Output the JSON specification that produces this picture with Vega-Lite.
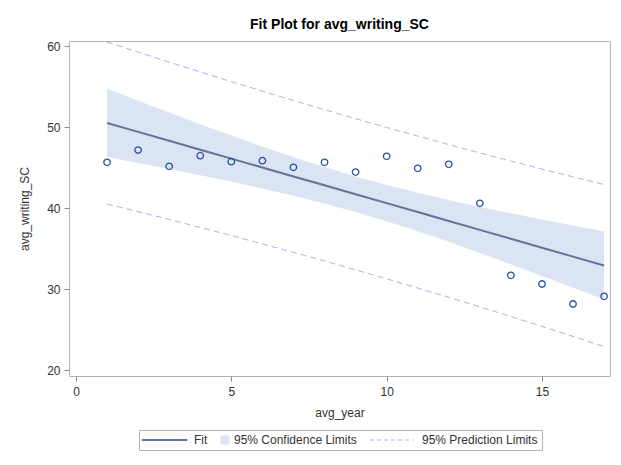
{
  "$schema": "https://vega.github.io/schema/vega-lite/v6.json",
  "width": 541,
  "height": 335,
  "autosize": {"type": "none"},
  "padding": {"left": 69, "top": 41, "right": 11, "bottom": 89},
  "background": "white",
  "title": {
    "text": "Fit Plot for avg_writing_SC",
    "fontSize": 14,
    "fontWeight": "bold",
    "font": "Liberation Sans",
    "color": "#000000",
    "anchor": "middle",
    "frame": "group",
    "offset": 8
  },
  "config": {
    "view": {"stroke": "#b4b4b4", "strokeWidth": 1},
    "font": "Liberation Sans",
    "axis": {
      "grid": false,
      "domain": false,
      "tickColor": "#8c8c8c",
      "tickSize": 5,
      "labelColor": "#333333",
      "labelFontSize": 12,
      "titleColor": "#333333",
      "titleFontSize": 12,
      "titleFontWeight": "normal",
      "labelFont": "Liberation Sans",
      "titleFont": "Liberation Sans"
    }
  },
  "data": {
    "values": [
      {"x": 1, "y": 45.64, "fit": 50.5, "cl": 46.29, "cu": 54.71, "pl": 40.5, "pu": 60.5},
      {"x": 2, "y": 47.16, "fit": 49.4, "cl": 45.56, "cu": 53.24, "pl": 39.55, "pu": 59.25},
      {"x": 3, "y": 45.15, "fit": 48.3, "cl": 44.82, "cu": 51.78, "pl": 38.59, "pu": 58.01},
      {"x": 4, "y": 46.46, "fit": 47.2, "cl": 44.06, "cu": 50.34, "pl": 37.6, "pu": 56.8},
      {"x": 5, "y": 45.72, "fit": 46.1, "cl": 43.26, "cu": 48.94, "pl": 36.6, "pu": 55.6},
      {"x": 6, "y": 45.84, "fit": 45.0, "cl": 42.42, "cu": 47.58, "pl": 35.57, "pu": 54.43},
      {"x": 7, "y": 45.02, "fit": 43.9, "cl": 41.52, "cu": 46.28, "pl": 34.52, "pu": 53.28},
      {"x": 8, "y": 45.64, "fit": 42.8, "cl": 40.56, "cu": 45.05, "pl": 33.46, "pu": 52.14},
      {"x": 9, "y": 44.44, "fit": 41.7, "cl": 39.5, "cu": 43.9, "pl": 32.37, "pu": 51.03},
      {"x": 10, "y": 46.38, "fit": 40.6, "cl": 38.36, "cu": 42.85, "pl": 31.26, "pu": 49.94},
      {"x": 11, "y": 44.9, "fit": 39.5, "cl": 37.12, "cu": 41.88, "pl": 30.12, "pu": 48.88},
      {"x": 12, "y": 45.39, "fit": 38.4, "cl": 35.82, "cu": 40.98, "pl": 28.97, "pu": 47.83},
      {"x": 13, "y": 40.58, "fit": 37.3, "cl": 34.46, "cu": 40.14, "pl": 27.8, "pu": 46.8},
      {"x": 14, "y": 31.69, "fit": 36.2, "cl": 33.06, "cu": 39.34, "pl": 26.6, "pu": 45.8},
      {"x": 15, "y": 30.62, "fit": 35.1, "cl": 31.62, "cu": 38.58, "pl": 25.39, "pu": 44.81},
      {"x": 16, "y": 28.15, "fit": 34.0, "cl": 30.16, "cu": 37.84, "pl": 24.15, "pu": 43.85},
      {"x": 17, "y": 29.1, "fit": 32.9, "cl": 28.69, "cu": 37.11, "pl": 22.9, "pu": 42.9}
    ]
  },
  "encoding": {
    "x": {
      "field": "x",
      "type": "quantitative",
      "title": "avg_year",
      "scale": {"domain": [-0.225, 17.19], "nice": false, "zero": false},
      "axis": {"values": [0, 5, 10, 15], "labelPadding": 5, "titlePadding": 10}
    }
  },
  "layer": [
    {
      "mark": {"type": "area", "opacity": 1},
      "encoding": {
        "y": {
          "field": "cl",
          "type": "quantitative",
          "title": "avg_writing_SC",
          "scale": {"domain": [19.26, 60.62], "nice": false, "zero": false},
          "axis": {"values": [20, 30, 40, 50, 60], "labelPadding": 4, "titlePadding": 15}
        },
        "y2": {"field": "cu"},
        "color": {
          "datum": "95% Confidence Limits",
          "type": "nominal",
          "scale": {
            "domain": ["Fit", "95% Confidence Limits", "95% Prediction Limits"],
            "range": ["#62739a", "#dbe4f2", "#aab2e8"]
          },
          "legend": {
            "title": " ",
            "titleOrient": "left",
            "titlePadding": 36,
            "titleFontSize": 12,
            "orient": "none",
            "direction": "horizontal",
            "legendX": 70,
            "legendY": 389,
            "strokeColor": "#b4b4b4",
            "fillColor": "#ffffff",
            "padding": 4,
            "labelFontSize": 12,
            "labelColor": "#333333",
            "labelFont": "Liberation Sans",
            "columnPadding": 11,
            "labelOffset": 3,
            "symbolOffset": 0,
            "symbolOpacity": 1,
            "symbolSize": 64,
            "symbolStrokeWidth": 1,
            "symbolType": {"expr": "datum.value === '95% Confidence Limits' ? 'M-1,-1H1V1H-1Z' : datum.value === 'Fit' ? 'M-10.75,-0.125H0.5V0.125H-10.75Z' : 'M-10.75,0H0'"},
            "symbolDash": {"expr": "datum.value === '95% Prediction Limits' ? [4, 3] : [1, 0]"}
          }
        }
      }
    },
    {
      "mark": {"type": "line", "strokeDash": [6, 4], "strokeWidth": 1},
      "encoding": {
        "y": {"field": "pl", "type": "quantitative"},
        "color": {"datum": "95% Prediction Limits", "type": "nominal"}
      }
    },
    {
      "mark": {"type": "line", "strokeDash": [6, 4], "strokeWidth": 1},
      "encoding": {
        "y": {"field": "pu", "type": "quantitative"},
        "color": {"datum": "95% Prediction Limits", "type": "nominal"}
      }
    },
    {
      "mark": {"type": "line", "strokeWidth": 2},
      "encoding": {
        "y": {"field": "fit", "type": "quantitative"},
        "color": {"datum": "Fit", "type": "nominal"}
      }
    },
    {
      "mark": {"type": "point", "shape": "circle", "filled": false, "stroke": "#2a4fa8", "strokeWidth": 1.3, "size": 42, "opacity": 1},
      "encoding": {
        "y": {"field": "y", "type": "quantitative"}
      }
    }
  ]
}
